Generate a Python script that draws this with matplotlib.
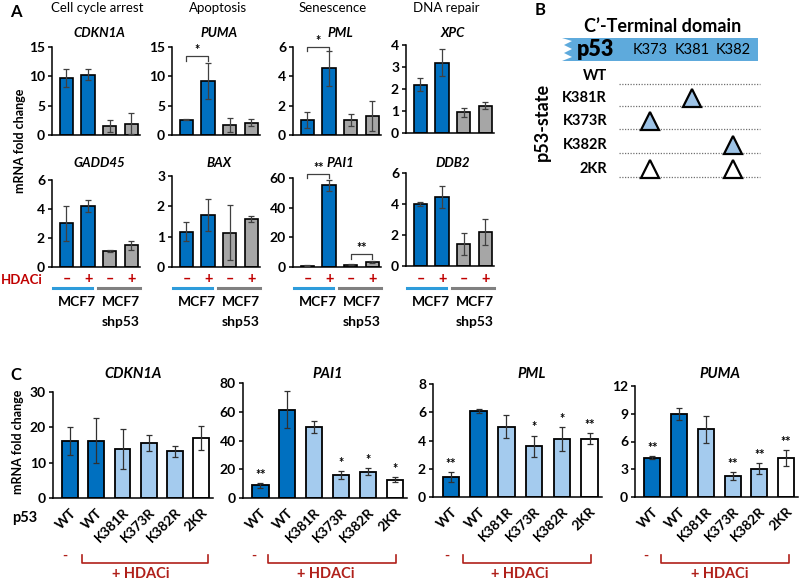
import matplotlib
matplotlib.use('Agg')
import matplotlib.pyplot as plt
from matplotlib.transforms import blended_transform_factory
from matplotlib.patches import Polygon

plt.rcParams['font.family'] = ['Lato', 'DejaVu Sans']

# ---- panel A data ----
a_top_genes = ['CDKN1A', 'PUMA', 'PML', 'XPC']
a_bot_genes = ['GADD45', 'BAX', 'PAI1', 'DDB2']
a_categories = ['Cell cycle arrest', 'Apoptosis', 'Senescence', 'DNA repair']
hdaci_signs = ['–', '+', '–', '+']

cdkn1a_a = [9.7, 10.3, 1.5, 1.9]
cdkn1a_a_err = [1.5, 0.9, 1.0, 1.8]
puma_a = [2.6, 9.2, 1.7, 2.1]
puma_a_err = [0.1, 3.0, 1.2, 0.6]
pml_a = [1.05, 4.55, 1.0, 1.3]
pml_a_err = [0.55, 1.2, 0.4, 1.0]
xpc_a = [2.2, 3.2, 0.95, 1.25]
xpc_a_err = [0.3, 0.6, 0.2, 0.15]
gadd45_a = [3.0, 4.2, 1.12, 1.5]
gadd45_a_err = [1.2, 0.4, 0.08, 0.3]
bax_a = [1.17, 1.72, 1.13, 1.58]
bax_a_err = [0.3, 0.53, 0.9, 0.1]
pai1_a = [1.0, 55.0, 1.5, 3.3]
pai1_a_err = [0.3, 3.8, 0.3, 0.5]
ddb2_a = [3.97, 4.43, 1.42, 2.2]
ddb2_a_err = [0.13, 0.72, 0.72, 0.85]

a_ticks = {'CDKN1A': [0, 5, 10, 15], 'PUMA': [0, 5, 10, 15], 'PML': [0, 2, 4, 6],
           'XPC': [0, 1, 2, 3, 4], 'GADD45': [0, 2, 4, 6], 'BAX': [0, 1, 2, 3],
           'PAI1': [0, 20, 40, 60], 'DDB2': [0, 2, 4, 6]}
# (gene, bar i, bar j, bracket height, label)
a_sig = [('PUMA', 0, 1, 13.4, '*'), ('PML', 0, 1, 6.0, '*'),
         ('PAI1', 0, 1, 63, '**'), ('PAI1', 2, 3, 8.5, '**')]

# ---- panel B data ----
b_sites = ['K373', 'K381', 'K382']
b_states = ['WT', 'K381R', 'K373R', 'K382R', '2KR']
b_mutated = [[], ['K381'], ['K373'], ['K382'], ['K373', 'K382']]

# ---- panel C data ----
c_genes = ['CDKN1A', 'PAI1', 'PML', 'PUMA']
c_labels = ['WT', 'WT', 'K381R', 'K373R', 'K382R', '2KR']
cdkn1a_c = [16.1, 16.2, 13.8, 15.5, 13.2, 17.1]
cdkn1a_c_err = [3.9, 6.4, 5.6, 2.2, 1.6, 3.4]
pai1_c = [8.9, 61.5, 49.4, 16.1, 18.2, 12.6]
pai1_c_err = [1.7, 12.8, 4.5, 2.9, 2.5, 1.7]
pml_c = [1.42, 6.1, 4.97, 3.6, 4.1, 4.14]
pml_c_err = [0.35, 0.12, 0.8, 0.75, 0.85, 0.37]
puma_c = [4.26, 8.95, 7.3, 2.27, 3.07, 4.22]
puma_c_err = [0.2, 0.63, 1.5, 0.45, 0.6, 0.9]
cdkn1a_c_sig = ['', '', '', '', '', '']
pai1_c_sig = ['**', '', '', '*', '*', '*']
pml_c_sig = ['**', '', '', '*', '*', '**']
puma_c_sig = ['**', '', '', '**', '**', '**']
c_ticks = {'CDKN1A': [0, 10, 20, 30], 'PAI1': [0, 20, 40, 60, 80],
           'PML': [0, 2, 4, 6, 8], 'PUMA': [0, 3, 6, 9, 12]}

BLUE = '#0070C0'
GRAY = '#A6A6A6'
LIGHT = '#A4CBEE'
RED = '#C00000'
DRED = '#B0201A'

W, H = 800, 582
fig = plt.figure(figsize=(8, 5.82), dpi=100)


def px_axes(x0, y0, x1, y1):
    return fig.add_axes([x0 / W, 1 - y1 / H, (x1 - x0) / W, (y1 - y0) / H])


def fy(y):
    return 1 - y / H


def style(ax, ticks, fs=10):
    ax.spines['top'].set_visible(False)
    ax.spines['right'].set_visible(False)
    ax.spines['left'].set_linewidth(1.1)
    ax.spines['bottom'].set_linewidth(1.1)
    ax.set_yticks(ticks)
    ax.set_ylim(0, ticks[-1])
    ax.set_xticks([])
    ax.tick_params(axis='y', length=3, width=1.1, pad=2, labelsize=fs)
    for t in ax.get_yticklabels():
        t.set_fontweight('bold')


# ---------------- Panel A ----------------
a_vals = {'CDKN1A': (cdkn1a_a, cdkn1a_a_err), 'PUMA': (puma_a, puma_a_err),
          'PML': (pml_a, pml_a_err), 'XPC': (xpc_a, xpc_a_err),
          'GADD45': (gadd45_a, gadd45_a_err), 'BAX': (bax_a, bax_a_err),
          'PAI1': (pai1_a, pai1_a_err), 'DDB2': (ddb2_a, ddb2_a_err)}
a_x0 = [52, 172, 293, 406]
a_top_y = [47, 47, 47, 45]
a_bot_y = [180, 176, 178, 173]
a_colors = [BLUE, BLUE, GRAY, GRAY]
xs = [0, 1, 2, 3]

fig.text(10 / W, fy(12), 'A', fontsize=12, fontweight='bold', va='center')
cat_x = [97, 218, 333, 446]
for cx, cat in zip(cat_x, a_categories):
    fig.text(cx / W, fy(8), cat, fontsize=9.5, ha='center', va='center')
fig.text(20 / W, fy(141), 'mRNA fold change', rotation=90, fontsize=9,
         fontweight='bold', ha='center', va='center')

for row, (genes, ytops) in enumerate([(a_top_genes, a_top_y), (a_bot_genes, a_bot_y)]):
    for k, g in enumerate(genes):
        y1 = (135 if k < 3 else 133) if row == 0 else (267 if k < 3 else 266)
        ax = px_axes(a_x0[k], ytops[k], a_x0[k] + 88, y1)
        vals, errs = a_vals[g]
        ax.bar(xs, vals, width=0.62, color=a_colors, edgecolor='black', linewidth=1.2, zorder=2)
        ax.errorbar(xs, vals, yerr=errs, fmt='none', ecolor='#404040', elinewidth=0.9,
                    capsize=2, capthick=0.9, zorder=3)
        style(ax, a_ticks[g])
        ax.set_xlim(-0.67, 3.4)
        tr = blended_transform_factory(ax.transData, fig.transFigure)
        ty = 33 if row == 0 else 163
        ax.text(1.5, fy(ty), g, transform=tr, fontsize=9.5, fontweight='bold',
                style='italic', ha='center', va='center')
        for gg, i, j, hy, lab in a_sig:
            if gg == g:
                dy = a_ticks[g][-1] * 0.05
                ax.plot([i, i, j, j], [hy - dy, hy, hy, hy - dy], color='#404040',
                        lw=0.9, clip_on=False)
                ax.text((i + j) / 2, hy, lab, ha='center', va='bottom', fontsize=9,
                        fontweight='bold')
        if row == 1:
            for x, s in zip(xs, hdaci_signs):
                ax.text(x, fy(279), s, transform=tr, color=RED, fontsize=10.5,
                        fontweight='bold', ha='center', va='center')
            ax.plot([-0.62, 1.2], [fy(288), fy(288)], transform=tr, color='#2E9CDB',
                    lw=2.2, clip_on=False)
            ax.plot([1.45, 3.4], [fy(288), fy(288)], transform=tr, color='#808080',
                    lw=2.2, clip_on=False)
            ax.text(0.5, fy(302), 'MCF7', transform=tr, fontsize=10, fontweight='bold',
                    ha='center', va='center')
            ax.text(2.5, fy(302), 'MCF7', transform=tr, fontsize=10, fontweight='bold',
                    ha='center', va='center')
            ax.text(2.5, fy(322), 'shp53', transform=tr, fontsize=10, fontweight='bold',
                    ha='center', va='center')

fig.text(43 / W, fy(280), 'HDACi', color=RED, fontsize=9.5, fontweight='bold',
         ha='right', va='center')

# ---------------- Overlay in pixel coordinates (panel B, labels) ----------------
ov = fig.add_axes([0, 0, 1, 1])
ov.set_xlim(0, W)
ov.set_ylim(H, 0)
ov.axis('off')

ov.text(535, 10, 'B', fontsize=12, fontweight='bold', va='center')
ov.text(663, 26, 'C\u2019-Terminal domain', fontsize=13, fontweight='bold',
        ha='center', va='center')
bar_pts = [(758, 38), (758, 61), (562, 61), (572, 57), (564, 53), (572, 49),
           (564, 45), (572, 41), (562, 38)]
ov.add_patch(Polygon(bar_pts, closed=True, facecolor='#5EAADC', edgecolor='none'))
ov.text(596, 50, 'p53', fontsize=15.5, fontweight='heavy', ha='center', va='center')
site_x = [650, 692, 733]
for sx, s in zip(site_x, b_sites):
    ov.text(sx, 50, s, fontsize=10.5, ha='center', va='center')

row_y = [76, 98, 121, 145, 169]
for ry, st, muts in zip(row_y, b_states, b_mutated):
    ov.text(607, ry, st, fontsize=10.5, fontweight='bold', ha='right', va='center')
    ov.plot([619, 760], [ry + 8, ry + 8], color='#707070', lw=0.9, ls=(0, (1, 1.2)))
    for m in muts:
        fc = 'white' if len(muts) > 1 else '#9DC3E6'
        ov.plot(site_x[b_sites.index(m)], ry, marker='^', ms=13, mfc=fc, mec='black',
                mew=1.6, ls='none')
ov.text(542, 122, 'p53-state', rotation=90, fontsize=13, fontweight='bold',
        ha='center', va='center')

# ---------------- Panel C ----------------
c_vals = {'CDKN1A': (cdkn1a_c, cdkn1a_c_err, cdkn1a_c_sig),
          'PAI1': (pai1_c, pai1_c_err, pai1_c_sig),
          'PML': (pml_c, pml_c_err, pml_c_sig),
          'PUMA': (puma_c, puma_c_err, puma_c_sig)}
c_box = [(53, 392, 213, 498), (243, 383, 407, 498), (433, 384, 602, 497), (635, 386, 798, 497)]
c_title_x = [133, 328, 532, 720]
c_minus_x = [65, 254, 447, 646]
c_brack = [(82, 208), (268, 396), (463, 591), (661, 789)]
c_hdaci_x = [141, 326, 520, 720]
c_colors = [BLUE, BLUE, LIGHT, LIGHT, LIGHT, 'white']
cx6 = list(range(6))

ov.text(10, 375, 'C', fontsize=12, fontweight='bold', va='center')
ov.text(18, 442, 'mRNA fold change', rotation=90, fontsize=9, fontweight='bold',
        ha='center', va='center')
ov.text(25, 518, 'p53', fontsize=10.5, fontweight='bold', ha='center', va='center')

for k, g in enumerate(c_genes):
    x0, y0, x1, y1 = c_box[k]
    ax = px_axes(x0, y0, x1, y1)
    vals, errs, sig = c_vals[g]
    ax.bar(cx6, vals, width=0.6, color=c_colors, edgecolor='black', linewidth=1.3, zorder=2)
    ax.errorbar(cx6, vals, yerr=errs, fmt='none', ecolor='#303030', elinewidth=0.9,
                capsize=2, capthick=0.9, zorder=3)
    style(ax, c_ticks[g])
    ax.set_xlim(-0.65, 5.45)
    ax.set_xticks(cx6)
    ax.set_xticklabels(c_labels, rotation=45, ha='right', rotation_mode='anchor',
                       fontsize=10, fontweight='bold')
    ax.tick_params(axis='x', length=0, pad=6)
    for x, v, e, s in zip(cx6, vals, errs, sig):
        if s:
            ax.annotate(s, (x, v + e), xytext=(0, 1.5), textcoords='offset points',
                        ha='center', va='bottom', fontsize=9, fontweight='bold')
    ov.text(c_title_x[k], 374, g, fontsize=10.5, fontweight='bold', style='italic',
            ha='center', va='center')
    ov.text(c_minus_x[k], 556, '-', color=DRED, fontsize=10, fontweight='bold',
            ha='center', va='center')
    bx0, bx1 = c_brack[k]
    ov.plot([bx0, bx0, bx1, bx1], [555, 563, 563, 555], color=DRED, lw=1.2)
    ov.text(c_hdaci_x[k], 574, '+ HDACi', color=DRED, fontsize=10.5, fontweight='bold',
            ha='center', va='center')

fig.savefig('out.png', dpi=100)
